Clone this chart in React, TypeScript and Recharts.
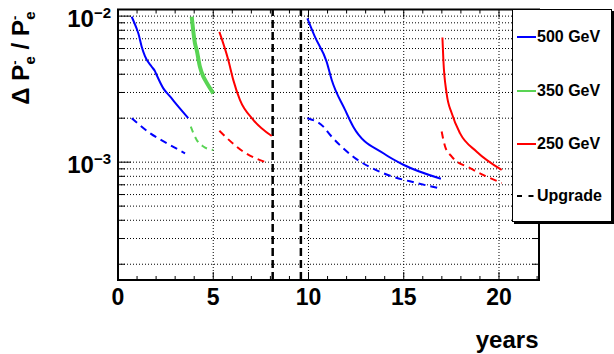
import React from "react";
import {
  LineChart,
  Line,
  XAxis,
  YAxis,
  CartesianGrid,
  ReferenceLine,
  ReferenceArea,
  Legend,
} from "recharts";

const FONT = '"Liberation Sans", Arial, Helvetica, sans-serif';

// axes
const xDomain = [0, 22.1];
const yDomain = [1.56e-4, 1.11e-2];
const xTicks = [0, 1, 2, 3, 4, 5, 6, 7, 8, 9, 10, 11, 12, 13, 14, 15, 16, 17, 18, 19, 20, 21, 22];
const xLabelTicks = [0, 5, 10, 15, 20];
const yTicks = [
  2e-4, 3e-4, 4e-4, 5e-4, 6e-4, 7e-4, 8e-4, 9e-4,
  1e-3, 2e-3, 3e-3, 4e-3, 5e-3, 6e-3, 7e-3, 8e-3, 9e-3, 1e-2,
];
const yMajorTicks = [1e-3, 1e-2];
const yMajorExponents = ["−3", "−2"];
const phaseBoundaries = [8.12, 9.6];

// [years, ΔP/P]
const blue500First = [
  [0.72, 9.9e-3], [0.98, 8.2e-3], [1.07, 7.6e-3], [1.24, 6.2e-3], [1.42, 5.3e-3],
  [1.77, 4.5e-3], [1.94, 4.2e-3], [2.03, 3.95e-3], [2.38, 3.2e-3], [2.73, 2.82e-3],
  [3.17, 2.4e-3], [3.69, 2.0e-3],
];
const blue500FirstUp = [[0.72, 2.0e-3], [1.68, 1.58e-3], [2.6, 1.34e-3], [3.52, 1.15e-3]];
const green350 = [
  [3.87, 9.9e-3], [4.04, 6.5e-3], [4.13, 5.86e-3], [4.3, 4.5e-3], [4.48, 3.85e-3],
  [4.57, 3.66e-3], [5.0, 2.96e-3],
];
const green350Up = [[3.82, 1.75e-3], [4.13, 1.42e-3], [4.48, 1.28e-3], [5.0, 1.21e-3]];
const red250First = [
  [5.32, 7.8e-3], [5.79, 5.0e-3], [6.05, 3.66e-3], [6.4, 2.67e-3], [7.1, 1.95e-3], [8.07, 1.51e-3],
];
const red250FirstUp = [[5.32, 1.64e-3], [6.58, 1.18e-3], [7.89, 9.85e-4]];
const blue500Second = [
  [9.94, 9.65e-3], [10.34, 7.2e-3], [10.95, 4.88e-3], [11.22, 3.65e-3], [11.92, 2.28e-3],
  [12.35, 1.75e-3], [13.93, 1.15e-3], [14.98, 9.6e-4], [16.95, 7.7e-4],
];
const blue500SecondUp = [
  [9.94, 2.0e-3], [10.78, 1.75e-3], [11.13, 1.54e-3], [12.35, 1.09e-3], [13.93, 8.4e-4],
  [15.68, 7.2e-4], [16.95, 6.6e-4],
];
const red250Second = [
  [17.03, 7.14e-3], [17.08, 5.0e-3], [17.25, 2.96e-3], [17.52, 2.16e-3], [17.95, 1.58e-3],
  [18.83, 1.18e-3], [20.14, 8.85e-4],
];
const red250SecondUp = [
  [16.99, 1.62e-3], [17.17, 1.28e-3], [17.52, 1.09e-3], [18.48, 9.1e-4], [20.14, 7.2e-4],
];

const BLUE = "#0000ff";
const GREEN = "#59d454";
const RED = "#ff0000";

const legendNames = ["500 GeV", "350 GeV", "250 GeV", "Upgrade"];
const legendColors = [BLUE, GREEN, RED, "#000"];

const series = [
  { key: "b1", pts: blue500First, color: BLUE, width: 2, dash: undefined },
  { key: "b1u", pts: blue500FirstUp, color: BLUE, width: 2, dash: "7 5" },
  { key: "g", pts: green350, color: GREEN, width: 4, dash: undefined },
  { key: "gu", pts: green350Up, color: GREEN, width: 2, dash: "6 5" },
  { key: "r1", pts: red250First, color: RED, width: 2, dash: undefined },
  { key: "r1u", pts: red250FirstUp, color: RED, width: 2, dash: "7 5" },
  { key: "b2", pts: blue500Second, color: BLUE, width: 2, dash: undefined },
  { key: "b2u", pts: blue500SecondUp, color: BLUE, width: 2, dash: "7 5" },
  { key: "r2", pts: red250Second, color: RED, width: 2, dash: undefined },
  { key: "r2u", pts: red250SecondUp, color: RED, width: 2, dash: "7 5" },
];

const toRows = (pts: number[][]) => pts.map(([x, y]) => ({ x, y }));

const majorIndex = (v: number) =>
  yMajorTicks.findIndex((m) => Math.abs(m - v) / m < 1e-6);

function LeftTick(props: any) {
  const { x, y, payload } = props;
  const idx = majorIndex(payload.value);
  const len = idx >= 0 ? 13 : 7;
  return (
    <g>
      <line x1={x} x2={x + len} y1={y} y2={y} stroke="#000" strokeWidth={1} />
      {idx >= 0 && (
        <text
          x={x - 7}
          y={y + 11}
          textAnchor="end"
          fontFamily={FONT}
          fontWeight="bold"
          fontSize={24}
          fill="#000"
        >
          10
          <tspan dy={-9} fontSize={15}>
            {yMajorExponents[idx]}
          </tspan>
        </text>
      )}
    </g>
  );
}

function RightTick(props: any) {
  const { x, y, payload } = props;
  const len = majorIndex(payload.value) >= 0 ? 13 : 7;
  return <line x1={x} x2={x - len} y1={y} y2={y} stroke="#000" strokeWidth={1} />;
}

function BottomTick(props: any) {
  const { x, y, payload } = props;
  const major = xLabelTicks.includes(payload.value);
  return (
    <g>
      <line x1={x} x2={x} y1={y} y2={y - (major ? 8 : 4)} stroke="#000" strokeWidth={1} />
      {major && (
        <text
          x={x}
          y={y + 25}
          textAnchor="middle"
          fontFamily={FONT}
          fontWeight="bold"
          fontSize={23}
          fill="#000"
        >
          {payload.value}
        </text>
      )}
    </g>
  );
}

function TopTick(props: any) {
  const { x, y, payload } = props;
  const major = xLabelTicks.includes(payload.value);
  return <line x1={x} x2={x} y1={y} y2={y + (major ? 8 : 4)} stroke="#000" strokeWidth={1} />;
}

function YTitle() {
  return (
    <text
      transform="translate(28.5, 58) rotate(-90)"
      textAnchor="middle"
      fontFamily={FONT}
      fontWeight="bold"
      fontSize={24}
      fill="#000"
    >
      Δ P
      <tspan dy={-10} fontSize={13}>-</tspan>
      <tspan dx={-4} dy={16} fontSize={15}>e</tspan>
      <tspan dy={-6}> / P</tspan>
      <tspan dy={-10} fontSize={13}>-</tspan>
      <tspan dx={-4} dy={16} fontSize={15}>e</tspan>
    </text>
  );
}

function XTitle(props: any) {
  const vb = props.viewBox;
  return (
    <text
      x={vb.x + vb.width - 0.5}
      y={348}
      textAnchor="end"
      fontFamily={FONT}
      fontWeight="bold"
      fontSize={24}
      fill="#000"
    >
      years
    </text>
  );
}

function LegendBox() {
  const rowTops = [27, 81, 134, 186];
  return (
    <div
      style={{
        position: "relative",
        width: 100,
        height: 213,
        boxSizing: "border-box",
        border: "1px solid #000",
        boxShadow: "2px 2px 0 #000",
        background: "#fff",
        fontFamily: FONT,
        fontWeight: "bold",
        fontSize: 16,
        color: "#000",
      }}
    >
      {legendNames.map((name, i) => (
        <div key={name} style={{ position: "absolute", left: 0, top: rowTops[i] - 10, height: 20, width: 100 }}>
          <svg width={24} height={20} style={{ position: "absolute", left: 3, top: 0 }}>
            {i < 3 ? (
              <line x1={1} x2={20} y1={10} y2={10} stroke={legendColors[i]} strokeWidth={2} />
            ) : (
              <line x1={1} x2={22} y1={10} y2={10} stroke="#000" strokeWidth={2} strokeDasharray="5 6.5" />
            )}
          </svg>
          <span style={{ position: "absolute", left: 24, top: 0, lineHeight: "20px", whiteSpace: "nowrap" }}>
            {name}
          </span>
        </div>
      ))}
    </div>
  );
}

export default function App() {
  return (
    <div style={{ position: "absolute", left: 0, top: 0, width: 614, height: 354, background: "#fff" }}>
      <LineChart width={614} height={354} margin={{ top: 8.5, right: 74, bottom: 34, left: 58 }}>
        <CartesianGrid vertical={false} stroke="#000" strokeDasharray="1 2" />
        <XAxis
          xAxisId={0}
          dataKey="x"
          type="number"
          domain={xDomain}
          allowDataOverflow
          ticks={xTicks}
          interval={0}
          height={40}
          tickSize={0}
          tickMargin={0}
          axisLine={false}
          tickLine={false}
          tick={<BottomTick />}
          label={<XTitle />}
        />
        <XAxis
          xAxisId="top"
          orientation="top"
          dataKey="x"
          type="number"
          domain={xDomain}
          allowDataOverflow
          ticks={xTicks}
          interval={0}
          height={1}
          tickSize={0}
          tickMargin={0}
          axisLine={false}
          tickLine={false}
          tick={<TopTick />}
        />
        <YAxis
          yAxisId={0}
          dataKey="y"
          type="number"
          scale="log"
          domain={yDomain}
          allowDataOverflow
          ticks={yTicks}
          interval={0}
          width={60}
          tickSize={0}
          tickMargin={0}
          axisLine={false}
          tickLine={false}
          tick={<LeftTick />}
          label={<YTitle />}
        />
        <YAxis
          yAxisId="right"
          orientation="right"
          type="number"
          scale="log"
          domain={yDomain}
          allowDataOverflow
          ticks={yTicks}
          interval={0}
          width={1}
          tickSize={0}
          tickMargin={0}
          axisLine={false}
          tickLine={false}
          tick={<RightTick />}
        />
        {xLabelTicks.slice(1).map((v) => (
          <ReferenceLine key={"g" + v} x={v} stroke="#000" strokeDasharray="1 2" />
        ))}
        {phaseBoundaries.map((v) => (
          <ReferenceLine key={"p" + v} x={v} stroke="#000" strokeWidth={2.5} strokeDasharray="8 4" />
        ))}
        {series.map((s) => (
          <Line
            key={s.key}
            data={toRows(s.pts)}
            dataKey="y"
            type="monotone"
            stroke={s.color}
            strokeWidth={s.width}
            strokeDasharray={s.dash}
            dot={false}
            activeDot={false}
            legendType="none"
            isAnimationActive={false}
          />
        ))}
        <ReferenceArea
          x1={xDomain[0]}
          x2={xDomain[1]}
          y1={yDomain[0]}
          y2={yDomain[1]}
          fill="none"
          fillOpacity={0}
          stroke="#000"
          strokeWidth={2}
        />
        <Legend
          layout="horizontal"
          align="center"
          verticalAlign="middle"
          width={100}
          wrapperStyle={{ left: 512, top: 9, width: 100, height: 213 }}
          content={<LegendBox />}
        />
      </LineChart>
    </div>
  );
}
